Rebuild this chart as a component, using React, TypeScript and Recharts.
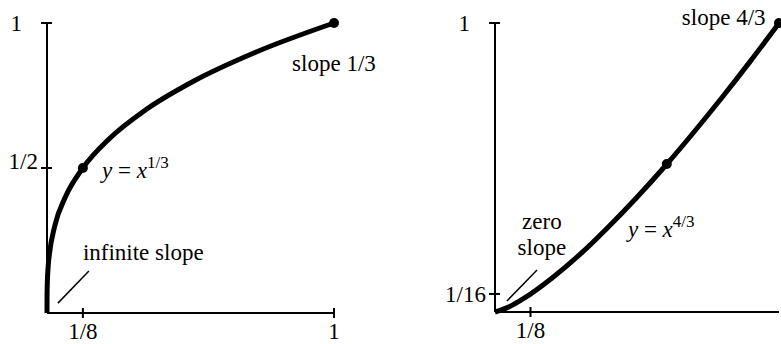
import { ComposedChart, Line, XAxis, YAxis, ReferenceDot, ReferenceLine } from "recharts";

// left panel: y = x^(1/3)
const leftX = [0, 0.0002, 0.001, 0.004, 0.008, 0.027, 0.064, 0.125, 0.216, 0.343, 0.512, 0.729, 1];
const leftY = [0, 0.06, 0.1, 0.16, 0.2, 0.3, 0.4, 0.5, 0.6, 0.7, 0.8, 0.9, 1];
const leftXTicks = [0.125, 1];
const leftXLabels = ["1/8", "1"];
const leftYTicks = [0.5, 1];
const leftYLabels = ["1/2", "1"];
const leftDotX = [0.125, 1];
const leftDotY = [0.5, 1];

// right panel: y = x^(4/3)
const rightX = [0, 0.05, 0.1, 0.2, 0.3, 0.4, 0.5, 0.6, 0.7, 0.8, 0.9, 1];
const rightY = [0, 0.018, 0.046, 0.117, 0.2, 0.295, 0.397, 0.506, 0.622, 0.743, 0.869, 1];
const rightXTicks = [0.125];
const rightXLabels = ["1/8"];
const rightYTicks = [0.0625, 1];
const rightYLabels = ["1/16", "1"];
const rightDotX = [0.605, 1];
const rightDotY = [0.512, 1];

// leader lines (data units): [x1, y1, x2, y2]
const leftLeader = [0.038, 0.034, 0.146, 0.145];
const rightLeader = [0.042, 0.038, 0.148, 0.145];

const FONT = "'Liberation Serif', 'DejaVu Serif', serif";
const INK = "#000";

const leftCurve = leftX.map((x, i) => ({ x, y: leftY[i] }));
const rightCurve = rightX.map((x, i) => ({ x, y: rightY[i] }));

function XTick(props: any) {
  const { x, y, payload, ticks, labels } = props;
  const label = labels[ticks.indexOf(payload.value)];
  return (
    <g>
      <line x1={x} x2={x} y1={y - 5} y2={y + 5} stroke={INK} strokeWidth={2} />
      <text x={x} y={y + 26} textAnchor="middle" fontFamily={FONT} fontSize={23} fill={INK}>
        {label}
      </text>
    </g>
  );
}

function YTick(props: any) {
  const { x, y, payload, ticks, labels } = props;
  const label = labels[ticks.indexOf(payload.value)];
  const gap = payload.value === 1 ? 25 : 9;
  const dy = payload.value === 0.5 ? 1 : 8;
  return (
    <g>
      <line x1={x - 6} x2={x + 5} y1={y} y2={y} stroke={INK} strokeWidth={2} />
      <text x={x - gap} y={y + dy} textAnchor="end" fontFamily={FONT} fontSize={23} fill={INK}>
        {label}
      </text>
    </g>
  );
}

function note(content: (x: number, y: number) => any) {
  return (p: any) => content(p.viewBox.x, p.viewBox.y);
}

// one text, lines stacked
function plain(lines: string[], anchor: "start" | "middle" = "start") {
  return note((x, y) => (
    <text x={x} y={y} textAnchor={anchor} fontFamily={FONT} fontSize={23} fill={INK}>
      {lines.map((t, i) => (
        <tspan key={i} x={x} dy={i === 0 ? 0 : 26}>
          {t}
        </tspan>
      ))}
    </text>
  ));
}

function power(exp: string) {
  return note((x, y) => (
    <text x={x} y={y} fontFamily={FONT} fontSize={23} fill={INK}>
      <tspan fontStyle="italic">y</tspan>
      {" = "}
      <tspan fontStyle="italic">x</tspan>
      <tspan dy={-10} fontSize={17}>{exp}</tspan>
    </text>
  ));
}

function Anchor({ x, y, label }: any) {
  return <ReferenceDot x={x} y={y} r={0} fill="none" stroke="none" label={label} />;
}

export default function App() {
  return (
    <div style={{ position: "absolute", left: 0, top: 0, width: 781, height: 344, background: "#fff", overflow: "hidden" }}>
      <div style={{ position: "absolute", left: 0, top: 0 }}>
        <ComposedChart width={390} height={344} data={leftCurve} margin={{ top: 23, right: 56, bottom: 0, left: 0 }}>
          <XAxis
            type="number"
            dataKey="x"
            domain={[0, 1]}
            ticks={leftXTicks}
            interval={0}
            height={31}
            tickSize={0}
            tickMargin={0}
            axisLine={{ stroke: INK, strokeWidth: 2 }}
            tickLine={false}
            tick={(p: any) => <XTick {...p} ticks={leftXTicks} labels={leftXLabels} />}
          />
          <YAxis
            type="number"
            domain={[0, 1]}
            ticks={leftYTicks}
            interval={0}
            width={47}
            tickSize={0}
            tickMargin={0}
            axisLine={{ stroke: INK, strokeWidth: 2 }}
            tickLine={false}
            tick={(p: any) => <YTick {...p} ticks={leftYTicks} labels={leftYLabels} />}
          />
          <Line type="monotone" dataKey="y" stroke={INK} strokeWidth={5} dot={false} activeDot={false} isAnimationActive={false} />
          <ReferenceLine
            segment={[{ x: leftLeader[0], y: leftLeader[1] }, { x: leftLeader[2], y: leftLeader[3] }]}
            stroke={INK}
            strokeWidth={1.5}
          />
          {leftDotX.map((x, i) => (
            <ReferenceDot key={i} x={x} y={leftDotY[i]} r={5} fill={INK} stroke="none" />
          ))}
          {Anchor({ x: 0.854, y: 0.834, label: plain(["slope 1/3"]) })}
          {Anchor({ x: 0.192, y: 0.466, label: power("1/3") })}
          {Anchor({ x: 0.125, y: 0.183, label: plain(["infinite slope"]) })}
        </ComposedChart>
      </div>
      <div style={{ position: "absolute", left: 390, top: 0 }}>
        <ComposedChart width={391} height={344} data={rightCurve} margin={{ top: 23, right: 2, bottom: 0, left: 0 }}>
          <XAxis
            type="number"
            dataKey="x"
            domain={[0, 1]}
            ticks={rightXTicks}
            interval={0}
            height={32}
            tickSize={0}
            tickMargin={0}
            axisLine={{ stroke: INK, strokeWidth: 2 }}
            tickLine={false}
            tick={(p: any) => <XTick {...p} ticks={rightXTicks} labels={rightXLabels} />}
          />
          <YAxis
            type="number"
            domain={[0, 1]}
            ticks={rightYTicks}
            interval={0}
            width={105}
            tickSize={0}
            tickMargin={0}
            axisLine={{ stroke: INK, strokeWidth: 2 }}
            tickLine={false}
            tick={(p: any) => <YTick {...p} ticks={rightYTicks} labels={rightYLabels} />}
          />
          <Line type="monotone" dataKey="y" stroke={INK} strokeWidth={5} dot={false} activeDot={false} isAnimationActive={false} />
          <ReferenceLine
            segment={[{ x: rightLeader[0], y: rightLeader[1] }, { x: rightLeader[2], y: rightLeader[3] }]}
            stroke={INK}
            strokeWidth={1.5}
          />
          {rightDotX.map((x, i) => (
            <ReferenceDot key={i} x={x} y={rightDotY[i]} r={5} fill={INK} stroke="none" />
          ))}
          {Anchor({ x: 0.658, y: 0.993, label: plain(["slope 4/3"]) })}
          {Anchor({ x: 0.165, y: 0.286, label: plain(["zero", "slope"], "middle") })}
          {Anchor({ x: 0.468, y: 0.26, label: power("4/3") })}
        </ComposedChart>
      </div>
    </div>
  );
}
